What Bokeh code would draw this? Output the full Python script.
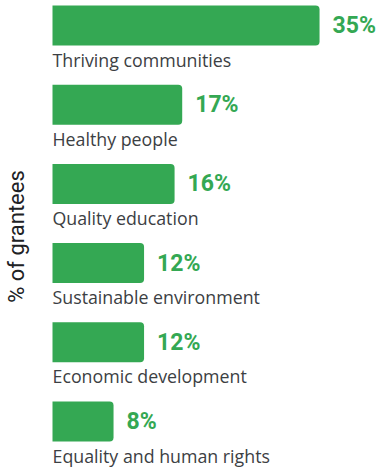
from bokeh.plotting import figure
from bokeh.models import Range1d, ColumnDataSource, Label
from bokeh.core.properties import value
from bokeh.embed import file_html
from bokeh.resources import INLINE

categories = ["Thriving communities", "Healthy people", "Quality education",
              "Sustainable environment", "Economic development", "Equality and human rights"]
values = [35, 17, 16, 12, 12, 8]
value_labels = ["35%", "17%", "16%", "12%", "12%", "8%"]
axis_title = "% of grantees"

GREEN = "#34A853"
TEXT = "#3c4043"
FONT = "Roboto"
CAT_FONT = "Open Sans"

W, H = 381, 469
px_per_pct = 7.63
px_per_row = 79.2
left_px = 52
first_center_px = 25

idx = list(range(len(categories)))
src = ColumnDataSource(dict(y=idx, v=values, lab=value_labels, cat=categories,
                            zero=[0] * len(idx)))

p = figure(width=W, height=H, output_backend="svg", toolbar_location=None,
           x_range=Range1d(-left_px / px_per_pct, (W - left_px) / px_per_pct),
           y_range=Range1d((H - first_center_px) / px_per_row, -first_center_px / px_per_row),
           min_border=0, outline_line_color=None)
p.axis.visible = False
p.grid.visible = False
p.background_fill_color = "white"
p.border_fill_color = "white"

p.hbar(y="y", left="zero", right="v", height=40 / px_per_row, source=src,
       fill_color=GREEN, line_color=None, border_radius=(0, 4, 4, 0))

p.text(x="v", y="y", text="lab", source=src, x_offset=13, y_offset=0,
       text_font=value(FONT), text_font_style="bold", text_font_size="23px",
       text_color=GREEN, text_baseline="alphabetic", text_align="left")

p.text(x="zero", y="y", text="cat", source=src, y_offset=34,
       text_font=value(CAT_FONT), text_font_size="17.8px",
       text_color=TEXT, text_baseline="alphabetic", text_align="left")

ylab = Label(x=-(left_px - 16) / px_per_pct, y=(236 - first_center_px) / px_per_row,
             text=axis_title, angle=1.5708, text_font=FONT, text_font_size="22px",
             text_color="#202124", text_align="center", text_baseline="middle")
p.add_layout(ylab)

open("out.html", "w").write(file_html(p, INLINE))
